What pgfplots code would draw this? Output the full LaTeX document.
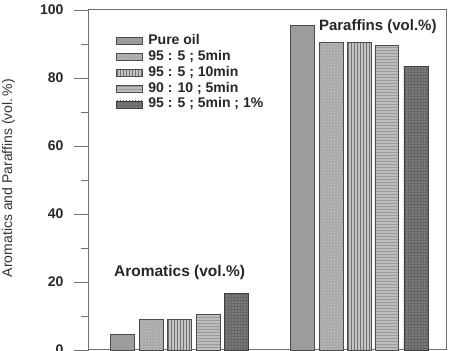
\documentclass[border=0pt]{standalone}
\usepackage{fontspec}
\setmainfont{Liberation Sans}
\usepackage{pgfplots}
\pgfplotsset{compat=1.18}
\usetikzlibrary{patterns}
\definecolor{axgray}{HTML}{707070}
\definecolor{barA}{HTML}{9C9C9C}
\definecolor{barB}{HTML}{A8A8A8}
\definecolor{barC}{HTML}{C4C4C4}
\definecolor{barD}{HTML}{BDBDBD}
\definecolor{barE}{HTML}{7A7A7A}
\begin{document}
\begin{tikzpicture}
\useasboundingbox (-89pt,-1pt) rectangle (362pt,350pt);
\begin{axis}[
 at={(0pt,0pt)}, anchor=south west,
 scale only axis, width=358pt, height=340pt,
 xmin=-1.18, xmax=11.39, ymin=0, ymax=100,
 ytick={0,20,...,100}, minor ytick={10,30,...,90},
 xtick=\empty,
 tick align=outside, ytick pos=left,
 major tick length=15pt, minor tick length=8pt,
 axis line style={axgray, line width=1pt},
 every tick/.style={axgray, line width=0.8pt},
 yticklabel style={font=\fontsize{14}{14}\selectfont\bfseries, text=black!85, xshift=-7pt},
 /pgf/number format/assume math mode=true,
 ylabel={Aromatics and Paraffins (vol.\,\%)},
 ylabel style={at={(axis description cs:-0.225,0.506)}, anchor=center, font=\fontsize{14}{14}\selectfont, text=black!80},
 legend style={at={(axis description cs:0.0754,0.932)}, anchor=north west, draw=none, fill=none,
   font=\fontsize{14}{14}\selectfont\bfseries, row sep=0pt, inner sep=0pt,
   nodes={text height=10pt, text depth=3pt, inner sep=1.4pt, text=black!85}},
 legend cell align=left,
 legend image code/.code={\draw[#1] (0pt,-3.5pt) rectangle (26pt,3.5pt); \path (30pt,0pt);},
 clip=false,
]
\addplot[ybar, bar width=0.84, bar shift=0pt, draw=black!70, line width=0.8pt, fill=barA] coordinates {(0,4.5) (6.32,95.5)};
\addlegendentry{Pure oil}
\addplot[ybar, bar width=0.84, bar shift=0pt, draw=black!70, line width=0.8pt, fill=barB, postaction={pattern=crosshatch dots, pattern color=black!20}] coordinates {(1,9) (7.32,90.5)};
\addlegendentry{95 : 5 ; 5min}
\addplot[ybar, bar width=0.84, bar shift=0pt, draw=black!70, line width=0.8pt, fill=barC, postaction={pattern=vertical lines, pattern color=black!55}] coordinates {(2,9) (8.3,90.5)};
\addlegendentry{95 : 5 ; 10min}
\addplot[ybar, bar width=0.84, bar shift=0pt, draw=black!70, line width=0.8pt, fill=barD, postaction={pattern=horizontal lines, pattern color=black!40}] coordinates {(3,10.5) (9.28,89.5)};
\addlegendentry{90 : 10 ; 5min}
\addplot[ybar, bar width=0.84, bar shift=0pt, draw=black!75, line width=0.8pt, fill=barE, postaction={pattern=grid, pattern color=black!60}] coordinates {(4,16.5) (10.3,83.5)};
\addlegendentry{95 : 5 ; 5min ; 1\%}
\node[font=\fontsize{15}{15}\selectfont\bfseries, text=black!85] at (axis cs:8.96,95) {Paraffins (vol.\%)};
\node[font=\fontsize{15.5}{15.5}\selectfont\bfseries, text=black!85] at (axis cs:2.0,22.9) {Aromatics (vol.\%)};
\end{axis}
\end{tikzpicture}
\end{document}
